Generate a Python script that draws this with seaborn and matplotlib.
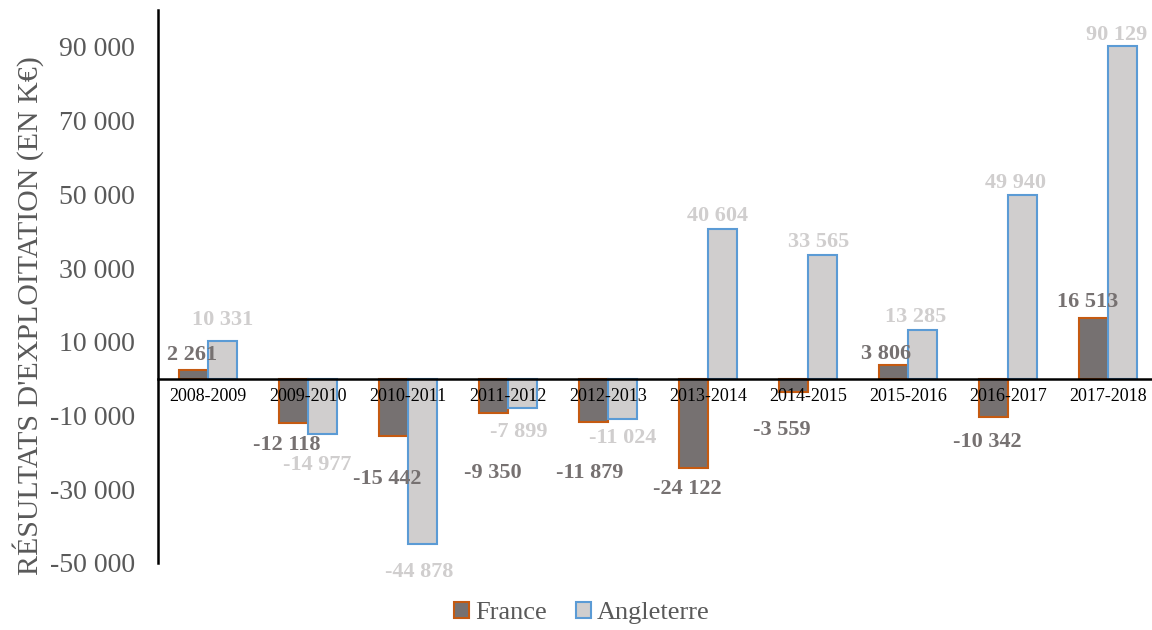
import matplotlib
matplotlib.use("Agg")
import matplotlib.pyplot as plt
from matplotlib.ticker import FuncFormatter
import seaborn as sns
import pandas as pd

saisons = ["2008-2009", "2009-2010", "2010-2011", "2011-2012", "2012-2013",
           "2013-2014", "2014-2015", "2015-2016", "2016-2017", "2017-2018"]
france = [2261, -12118, -15442, -9350, -11879, -24122, -3559, 3806, -10342, 16513]
angleterre = [10331, -14977, -44878, -7899, -11024, 40604, 33565, 13285, 49940, 90129]
pays = ["France", "Angleterre"]
remplissage = ["#767171", "#D0CECE"]
bordure = ["#C55A11", "#5B9BD5"]
y_ticks = list(range(-50000, 100000, 20000))

# décalage des étiquettes (pixels, ligne de base) comme dans l'original
decal_x = [[-1.5, -6.5, -6.5, -1, -3.5, -6.5, -11.5, -7.5, -6.5, -5.5],
           [0, -5.5, -3, -3.5, 0.5, -5.5, -3.5, -6.5, -7.5, -5.5]]
decal_y = [[10, -27, -48, -65, -56, -26, -43, 5.5, -30, 10.7],
           [15.5, -36, -33, -29, -24, 8, 8, 7.6, 7, 6.4]]

df = pd.DataFrame({
    "saison": saisons * 2,
    "valeur": france + angleterre,
    "pays": ["France"] * len(saisons) + ["Angleterre"] * len(saisons),
})

sns.set_style("white")
plt.rcParams['font.family'] = ['Liberation Serif', 'DejaVu Serif']
plt.rcParams['axes.unicode_minus'] = False

def fmt(v):
    return f"{int(round(v)):,}".replace(",", " ")

fig = plt.figure(figsize=(11.52, 6.3), dpi=100)
ax = fig.add_axes([158 / 1152, 67 / 630, 1000 / 1152, 553 / 630])

sns.barplot(data=df, x="saison", y="valeur", hue="pays", hue_order=pays,
            palette=remplissage, width=0.58, gap=0, ax=ax, legend=False,
            saturation=1)

for k, (cont, fc, ec) in enumerate(zip(ax.containers, remplissage, bordure)):
    for i, b in enumerate(cont):
        b.set_edgecolor(ec)
        b.set_linewidth(1.5)
        b.set_facecolor(fc)
        b.set_zorder(1)
        h = b.get_height()
        ax.annotate(fmt(h), xy=(b.get_x() + b.get_width() / 2, h),
                    xytext=(decal_x[k][i], decal_y[k][i]), textcoords="offset pixels",
                    ha="center", va="baseline", fontsize=16, fontweight="bold",
                    color=fc, zorder=6)

ax.set_axisbelow(False)
ax.set_xlim(-0.5, 9.5)
ax.set_ylim(-50000, 100000)
ax.set_yticks(y_ticks)
ax.yaxis.set_major_formatter(FuncFormatter(lambda v, p: fmt(v)))
ax.tick_params(axis="y", length=0, labelsize=20, labelcolor="#595959", pad=16.5)
ax.tick_params(axis="x", length=0, labelsize=13, labelcolor="black", pad=7)

for s in ["top", "right"]:
    ax.spines[s].set_visible(False)
ax.spines["bottom"].set_position(("data", 0))
ax.spines["bottom"].set_color("black")
ax.spines["bottom"].set_linewidth(1.8)
ax.spines["left"].set_color("black")
ax.spines["left"].set_linewidth(1.8)

ax.set_xlabel("")
ax.set_ylabel("")
fig.text(28 / 1152, 1 - 316 / 630, "RÉSULTATS D'EXPLOITATION (EN K€)", rotation=90,
         ha="center", va="center", fontsize=21.5, color="#595959")

handles = [plt.Rectangle((0, 0), 1, 1, facecolor=fc, edgecolor=ec, linewidth=1.5)
           for fc, ec in zip(remplissage, bordure)]
leg = fig.legend(handles, pays, loc="center", bbox_to_anchor=(582 / 1152, 0.027), ncol=2,
                 frameon=False, fontsize=19, handlelength=0.55, handleheight=0.55,
                 handletextpad=0.25, columnspacing=1.1)
for t in leg.get_texts():
    t.set_color("#595959")

fig.savefig("out.png", dpi=100)
